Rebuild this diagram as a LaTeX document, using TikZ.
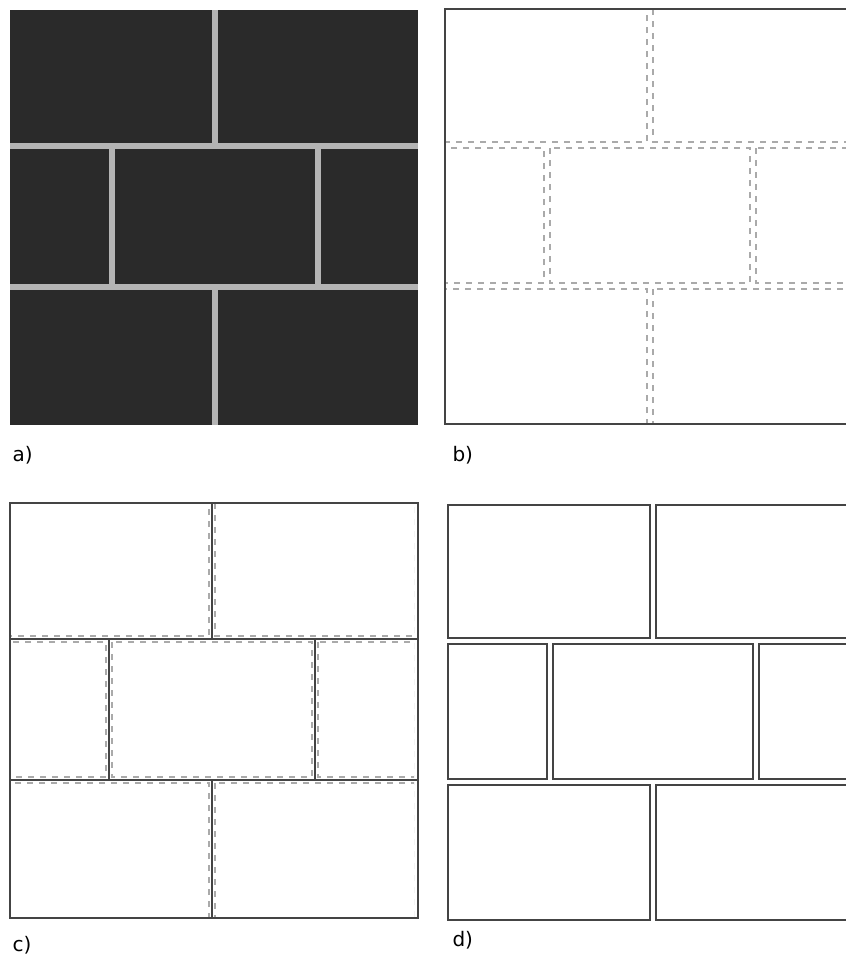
\documentclass[tikz,border=0pt]{standalone}
\usepackage{fontspec}
\setmainfont{DejaVu Sans}
\definecolor{tiledark}{HTML}{2A2A2A}
\definecolor{groutgray}{HTML}{B4B4B4}
\definecolor{edgegray}{HTML}{444444}
\definecolor{dashgray}{HTML}{AAAAAA}
% Fliesen: x1/y1/x2/y2 (Fugenmitte, aussen um 3 erweitert)
\newcommand{\tilelist}{-3/-3/205/136, 205/-3/411/136, -3/136/102/277, 102/136/308/277, 308/136/411/277, -3/277/205/418, 205/277/411/418}
\tikzset{
  grout/.style={groutgray, line width=6pt},
  tileedge/.style={edgegray, line width=2.4pt},
  tiledash/.style={dashgray, line width=1.4pt, dash pattern=on 6pt off 6pt},
  panellabel/.style={anchor=west, font=\fontsize{20}{24}\selectfont}
}
\begin{document}
\begin{tikzpicture}[x=1pt, y=-1pt]
    \useasboundingbox (0,0) rectangle (846,956);
    % a) dunkle Fliesen mit hellen Fugen
    \begin{scope}[shift={(10,10)}]
        \fill[tiledark] (0,0) rectangle (408,415);
        \draw[grout] (0,136) -- (408,136);
        \draw[grout] (0,277) -- (408,277);
        \draw[grout] (205,0) -- (205,136);
        \draw[grout] (102,136) -- (102,277);
        \draw[grout] (308,136) -- (308,277);
        \draw[grout] (205,277) -- (205,415);
    \end{scope}
    % b) Fliesenkanten gestrichelt
    \begin{scope}[shift={(445,9)}]
        \clip (-2,-2) rectangle (401,420);
        \foreach \xa/\ya/\xb/\yb in \tilelist
            \draw[tiledash] (\xa+3,\ya+3) rectangle (\xb-3,\yb-3);
        \draw[tileedge] (410,0) -- (0,0) -- (0,415) -- (410,415);
    \end{scope}
    % c) Fugenlinien und Kanten
    \begin{scope}[shift={(10,503)}]
        \begin{scope}
            \clip (0,0) rectangle (404,415);
            \foreach \xa/\ya/\xb/\yb in \tilelist
                \draw[tiledash, xshift=-3pt] (\xa+3,\ya+3) rectangle (\xb-3,\yb-3);
        \end{scope}
        \draw[tileedge] (0,0) rectangle (408,415);
        \draw[tileedge] (0,136) -- (408,136);
        \draw[tileedge] (0,277) -- (408,277);
        \draw[tileedge] (202,0) -- (202,136);
        \draw[tileedge] (99,136) -- (99,277);
        \draw[tileedge] (305,136) -- (305,277);
        \draw[tileedge] (202,277) -- (202,415);
    \end{scope}
    % d) Fliesen als Rechtecke
    \begin{scope}[shift={(448,505)}]
        \clip (-2,-2) rectangle (398,418);
        \foreach \xa/\ya/\xb/\yb in \tilelist
            \draw[tileedge] (\xa+3,\ya+3) rectangle (\xb-3,\yb-3);
    \end{scope}
    % Labels
    \node[panellabel] (laba) at (9,455) {a)};
    \node[panellabel] (labb) at (449,455) {b)};
    \node[panellabel] (labc) at (9,945) {c)};
    \node[panellabel] (labd) at (449,940) {d)};
\end{tikzpicture}
\end{document}
